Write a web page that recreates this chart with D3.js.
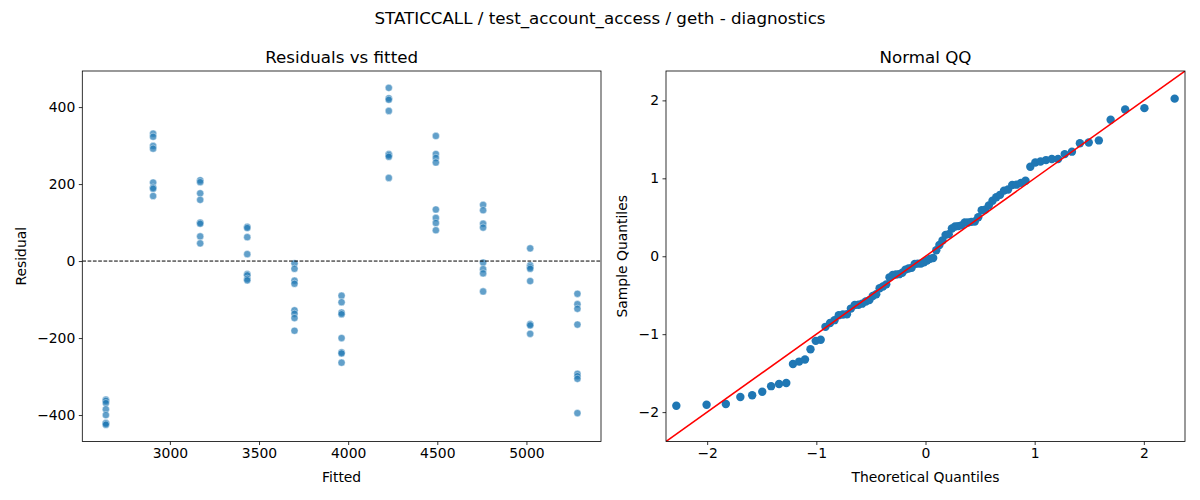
<!DOCTYPE html>
<html>
<head>
<meta charset="utf-8">
<script src="https://cdn.jsdelivr.net/npm/d3@7"></script>
<style>
  body { margin: 0; background: #fff; }
  svg { display: block; }
  text { font-family: "DejaVu Sans", sans-serif; fill: #000; }
</style>
</head>
<body>
<svg id="chart" width="1200" height="500"></svg>
<script>
// ---------------- DATA ----------------
const suptitle = "STATICCALL / test_account_access / geth - diagnostics";
const fitted = [2641, 2906, 3170, 3434, 3699, 3963, 4228, 4492, 4757, 5021, 5286];
const residualsByFitted = [
  [-360, -363, -369, -385, -400, -420, -422, -425],
  [331, 323, 299, 292, 204, 191, 188, 169],
  [210, 205, 176, 159, 100, 97, 64, 46],
  [89, 86, 62, 18, -34, -37, -46, -50],
  [-6, -20, -51, -59, -128, -137, -148, -181],
  [-90, -107, -134, -138, -200, -237, -240, -264],
  [450, 423, 419, 390, 278, 275, 271, 216],
  [325, 278, 268, 256, 134, 112, 99, 80],
  [146, 132, 97, 87, -4, -21, -32, -79],
  [33, -11, -16, -20, -52, -164, -167, -189],
  [-85, -112, -124, -165, -293, -299, -306, -395]
];
const residXTicks = [3000, 3500, 4000, 4500, 5000];
const residYTicks = [-400, -200, 0, 200, 400];
const qqXTicks = [-2, -1, 0, 1, 2];
const qqYTicks = [-2, -1, 0, 1, 2];
const qqLimits = [-2.377, 2.377];

// ---------------- HELPERS ----------------
// inverse standard normal CDF (Acklam)
function normPpf(p) {
  const a = [-3.969683028665376e+01, 2.209460984245205e+02, -2.759285104469687e+02, 1.383577518672690e+02, -3.066479806614716e+01, 2.506628277459239e+00];
  const b = [-5.447609879822406e+01, 1.615858368580409e+02, -1.556989798598866e+02, 6.680131188771972e+01, -1.328068155288572e+01];
  const c = [-7.784894002430293e-03, -3.223964580411365e-01, -2.400758277161838e+00, -2.549732539343734e+00, 4.374664141464968e+00, 2.938163982698783e+00];
  const d = [7.784695709041462e-03, 3.224671290700398e-01, 2.445134137142996e+00, 3.754408661907416e+00];
  const pl = 0.02425, ph = 1 - pl;
  let q, r;
  if (p < pl) {
    q = Math.sqrt(-2 * Math.log(p));
    return (((((c[0]*q+c[1])*q+c[2])*q+c[3])*q+c[4])*q+c[5]) / ((((d[0]*q+d[1])*q+d[2])*q+d[3])*q+1);
  } else if (p <= ph) {
    q = p - 0.5; r = q*q;
    return (((((a[0]*r+a[1])*r+a[2])*r+a[3])*r+a[4])*r+a[5])*q / (((((b[0]*r+b[1])*r+b[2])*r+b[3])*r+b[4])*r+1);
  } else {
    q = Math.sqrt(-2 * Math.log(1 - p));
    return -(((((c[0]*q+c[1])*q+c[2])*q+c[3])*q+c[4])*q+c[5]) / ((((d[0]*q+d[1])*q+d[2])*q+d[3])*q+1);
  }
}

const points = [];
fitted.forEach((f, i) => residualsByFitted[i].forEach(r => points.push({ f, r })));

const allResid = points.map(p => p.r);
const mean = d3.mean(allResid);
const sd = Math.sqrt(d3.mean(allResid, v => (v - mean) ** 2));
const sorted = allResid.slice().sort((a, b) => a - b);
const n = sorted.length;
const qq = sorted.map((v, i) => ({ t: normPpf((i + 1) / (n + 1)), s: (v - mean) / sd }));

// ---------------- LAYOUT ----------------
const svg = d3.select("#chart");
const yTop = 71, yBot = 441.5;
const L = { x0: 82.3, x1: 601 };
const R = { x0: 666, x1: 1185 };
const fontTick = 13.9, fontLabel = 13.9, fontTitle = 16.7;
const blue = "#1f77b4";

function pad(ext) { const d = ext[1] - ext[0]; return [ext[0] - 0.05 * d, ext[1] + 0.05 * d]; }

svg.append("text").attr("x", 600).attr("y", 24).attr("text-anchor", "middle")
  .style("font-size", fontTitle + "px").text(suptitle);

function drawAxes(g, x, y, xTicks, yTicks, fmt) {
  const xa = g.append("g").attr("transform", `translate(0,${yBot})`)
    .call(d3.axisBottom(x).tickValues(xTicks).tickSize(3.5).tickPadding(3.5).tickFormat(fmt));
  const ya = g.append("g").attr("transform", `translate(${x.range()[0]},0)`)
    .call(d3.axisLeft(y).tickValues(yTicks).tickSize(3.5).tickPadding(3.5).tickFormat(fmt));
  [xa, ya].forEach(a => {
    a.select(".domain").remove();
    a.selectAll(".tick line").attr("stroke", "#000").attr("stroke-width", 0.8);
    a.selectAll(".tick text").style("font-size", fontTick + "px").attr("fill", "#000")
      .style("font-family", '"DejaVu Sans", sans-serif');
  });
  g.append("rect").attr("x", x.range()[0]).attr("y", yTop)
    .attr("width", x.range()[1] - x.range()[0]).attr("height", yBot - yTop)
    .attr("fill", "none").attr("stroke", "#000").attr("stroke-width", 0.8);
}
const fmt = d => d3.format("d")(d).replace("-", "\u2212");

// ---------------- LEFT: Residuals vs fitted ----------------
const gL = svg.append("g");
const xL = d3.scaleLinear().domain(pad(d3.extent(points, p => p.f))).range([L.x0, L.x1]);
const yL = d3.scaleLinear().domain(pad(d3.extent(points, p => p.r))).range([yBot, yTop]);

const defs = svg.append("defs");
defs.append("clipPath").attr("id", "clipL").append("rect")
  .attr("x", L.x0).attr("y", yTop).attr("width", L.x1 - L.x0).attr("height", yBot - yTop);
defs.append("clipPath").attr("id", "clipR").append("rect")
  .attr("x", R.x0).attr("y", yTop).attr("width", R.x1 - R.x0).attr("height", yBot - yTop);

const plotL = gL.append("g").attr("clip-path", "url(#clipL)");
plotL.selectAll("circle").data(points).join("circle")
  .attr("cx", p => xL(p.f)).attr("cy", p => yL(p.r)).attr("r", 3.6)
  .attr("fill", blue).attr("fill-opacity", 0.7)
  .attr("stroke", "#fff").attr("stroke-opacity", 0.7).attr("stroke-width", 0.6);
plotL.append("line").attr("x1", L.x0).attr("x2", L.x1).attr("y1", yL(0)).attr("y2", yL(0))
  .attr("stroke", "#000").attr("stroke-width", 1).attr("stroke-dasharray", "3.7,1.6");

drawAxes(gL, xL, yL, residXTicks, residYTicks, fmt);

gL.append("text").attr("x", (L.x0 + L.x1) / 2).attr("y", 62.5).attr("text-anchor", "middle")
  .style("font-size", fontTitle + "px").text("Residuals vs fitted");
gL.append("text").attr("x", (L.x0 + L.x1) / 2).attr("y", 482).attr("text-anchor", "middle")
  .style("font-size", fontLabel + "px").text("Fitted");
gL.append("text").attr("transform", `translate(26,${(yTop + yBot) / 2}) rotate(-90)`)
  .attr("text-anchor", "middle").style("font-size", fontLabel + "px").text("Residual");

// ---------------- RIGHT: Normal QQ ----------------
const gR = svg.append("g");
const xR = d3.scaleLinear().domain(qqLimits).range([R.x0, R.x1]);
const yR = d3.scaleLinear().domain(qqLimits).range([yBot, yTop]);
const plotR = gR.append("g").attr("clip-path", "url(#clipR)");
plotR.selectAll("circle").data(qq).join("circle")
  .attr("cx", d => xR(d.t)).attr("cy", d => yR(d.s)).attr("r", 4.2)
  .attr("fill", blue);
plotR.append("line")
  .attr("x1", xR(qqLimits[0])).attr("y1", yR(qqLimits[0]))
  .attr("x2", xR(qqLimits[1])).attr("y2", yR(qqLimits[1]))
  .attr("stroke", "red").attr("stroke-width", 1.5);

drawAxes(gR, xR, yR, qqXTicks, qqYTicks, fmt);

gR.append("text").attr("x", (R.x0 + R.x1) / 2).attr("y", 62.5).attr("text-anchor", "middle")
  .style("font-size", fontTitle + "px").text("Normal QQ");
gR.append("text").attr("x", (R.x0 + R.x1) / 2).attr("y", 482).attr("text-anchor", "middle")
  .style("font-size", fontLabel + "px").text("Theoretical Quantiles");
gR.append("text").attr("transform", `translate(627,${(yTop + yBot) / 2}) rotate(-90)`)
  .attr("text-anchor", "middle").style("font-size", fontLabel + "px").text("Sample Quantiles");
</script>
</body>
</html>
